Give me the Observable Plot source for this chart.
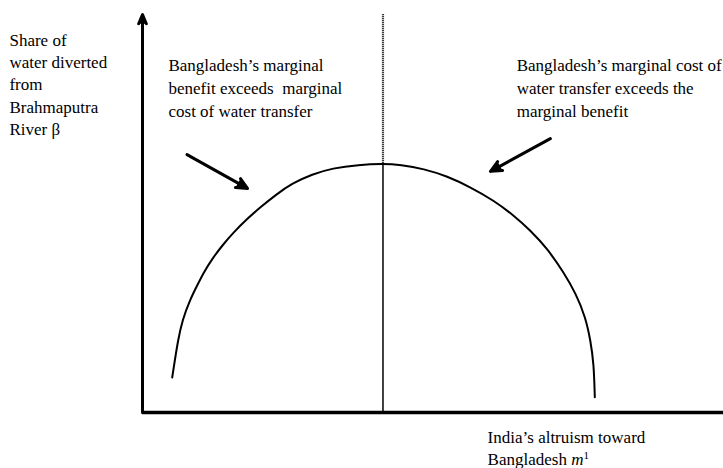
<!DOCTYPE html>
<html><head><meta charset="utf-8">
<script src="https://cdn.jsdelivr.net/npm/d3@7"></script>
<script src="https://cdn.jsdelivr.net/npm/@observablehq/plot@0.6"></script>
<style>body{margin:0;background:#fff}</style>
</head><body><div id="chart"></div>
<script>
// Curve, abstract units 0..100
const curveX = [5.11, 5.56, 6.11, 6.83, 8.26, 9.41, 10.55, 12.00, 13.72, 15.71, 18.02, 20.31, 22.89, 25.77, 29.21, 32.65, 37.23, 41.39,
                44.41, 48.42, 52.44, 56.45, 60.46, 63.91, 66.78, 69.66, 72.51, 74.61, 76.25, 77.11, 77.68, 77.85];
const curveY = [8.79, 13.07, 18.09, 23.12, 28.57, 31.91, 35.25, 38.62, 41.96, 45.30, 48.67, 51.58, 54.65, 57.59, 59.85, 61.38, 62.26, 62.49,
                62.24, 61.23, 59.37, 56.61, 53.27, 49.50, 45.73, 41.21, 35.18, 29.82, 23.94, 18.09, 12.24, 3.84];
const peakX = 41.39;
const peakY = 62.49;
const axisMax = 100;

// Pointer arrows
const arrowX1 = [7.66, 70.2];
const arrowY1 = [64.8, 68.8];
const arrowX2 = [18.07, 59.9];
const arrowY2 = [56.3, 60.6];

// Annotations
const annotationText = [
  "Bangladesh’s marginal\nbenefit exceeds  marginal\ncost of water transfer",
  "Bangladesh’s marginal cost of\nwater transfer exceeds the\nmarginal benefit"
];
const annotationX = [4.47, 64.4];
const annotationY = [81.9, 81.9];

const yLabel = ["Share of\nwater diverted\nfrom\nBrahmaputra\nRiver β"];
const yLabelX = [-22.9];
const yLabelY = [82.7];
const xLabel = ["India’s altruism toward\nBangladesh m1"];
const xLabelX = [59.4];
const xLabelY = [-8.6];

const curve = curveX.map((x, i) => ({x, y: curveY[i]}));
const arrows = arrowX1.map((x1, i) => ({x1, y1: arrowY1[i], x2: arrowX2[i], y2: arrowY2[i]}));
const notes = annotationText.map((t, i) => ({t, x: annotationX[i], y: annotationY[i]}));

const svg = Plot.plot({
  width: 723,
  height: 468,
  marginLeft: 142,
  marginRight: 0,
  marginTop: 14,
  marginBottom: 56,
  x: {domain: [0, 100], axis: null},
  y: {domain: [0, 100], axis: null},
  style: {fontFamily: "'Liberation Serif', 'Times New Roman', serif", fontSize: "17px", background: "#fff", color: "#000", overflow: "visible"},
  marks: [
    // x axis line
    Plot.ruleY([0], {stroke: "#000", strokeWidth: 3.5}),
    // y axis with arrowhead
    Plot.arrow([{x1: 0, y1: 0, x2: 0, y2: axisMax}], {x1: "x1", y1: "y1", x2: "x2", y2: "y2", stroke: "#000", fill: "#000", strokeWidth: 3, headLength: 5, headAngle: 45}),
    // vertical divider: solid below peak, dotted above
    Plot.ruleX([peakX], {y1: 0, y2: peakY, stroke: "#000", strokeWidth: 1.5}),
    Plot.ruleX([peakX], {y1: peakY, y2: axisMax, stroke: "#000", strokeWidth: 2.2, strokeDasharray: "1,1"}),
    // curve
    Plot.line(curve, {x: "x", y: "y", curve: "basis", stroke: "#000", strokeWidth: 2}),
    // pointer arrows
    Plot.arrow(arrows, {x1: "x1", y1: "y1", x2: "x2", y2: "y2", stroke: "#000", fill: "#000", strokeWidth: 3, headLength: 6, headAngle: 50}),
    // annotations
    Plot.text(notes, {x: "x", y: "y", text: "t", textAnchor: "start", lineAnchor: "middle", lineHeight: 1.35, fill: "#000"}),
    Plot.text(yLabel, {x: () => yLabelX[0], y: () => yLabelY[0], text: d => d, textAnchor: "start", lineAnchor: "middle", lineHeight: 1.3, fill: "#000"}),
    Plot.text(xLabel, {x: () => xLabelX[0], y: () => xLabelY[0], text: d => d, textAnchor: "start", lineAnchor: "middle", lineHeight: 1.3, fill: "#000"})
  ]
});

// italic m with superscript 1 in the x label
svg.querySelectorAll("text").forEach(t => {
  if (t.textContent.includes("India")) {
    const spans = t.querySelectorAll("tspan");
    const last = spans[spans.length - 1];
    last.textContent = "Bangladesh ";
    const m = document.createElementNS("http://www.w3.org/2000/svg", "tspan");
    m.setAttribute("font-style", "italic");
    m.textContent = "m";
    const s = document.createElementNS("http://www.w3.org/2000/svg", "tspan");
    s.setAttribute("font-size", "11");
    s.setAttribute("dy", "-6");
    s.textContent = "1";
    last.appendChild(m);
    last.appendChild(s);
  }
});

document.getElementById("chart").appendChild(svg);
</script>
</body></html>
